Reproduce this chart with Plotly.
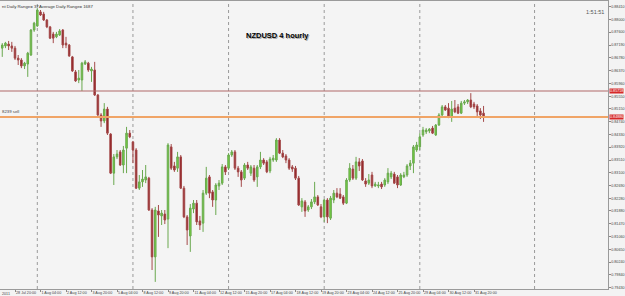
import plotly.graph_objects as go
from datetime import datetime, timedelta

# ---- data (NZDUSD H4, bars from 28 Jul 2011 04:00) ----
open_ = [.8709,.8716,.8722,.8716,.8709,.8677,.8671,.8652,.8658,.8687,
         .8767,.8780,.8825,.8818,.8799,.8777,.8754,.8745,.8751,.8767,
         .8725,.8719,.8681,.8633,.8607,.8607,.8658,.8661,.8636,.8639,
         .8559,.8495,.8476,.8514,.8434,.8309,.8361,.8377,.8335,.8389,
         .8437,.8409,.8383,.8261,.8281,.8287,.8293,.8191,.8041,.8188,
         .8172,.8178,.8162,.8393,.8332,.8325,.8361,.8261,.8169,.8108,
         .8194,.8213,.8156,.8149,.8245,.8297,.8249,.8223,.8268,.8277,
         .8329,.8325,.8367,.8377,.8325,.8313,.8293,.8335,.8309,.8325,
         .8297,.8329,.8351,.8345,.8316,.8351,.8351,.8415,.8373,.8364,
         .8351,.8329,.8325,.8293,.8201,.8217,.8191,.8201,.8217,.8233,
         .8201,.8169,.8223,.8165,.8223,.8245,.8242,.8233,.8213,.8287,
         .8322,.8293,.8345,.8348,.8284,.8277,.8303,.8268,.8268,.8274,
         .8271,.8281,.8297,.8306,.8297,.8271,.8297,.8303,.8332,.8341,
         .8383,.8393,.8431,.8441,.8444,.8453,.8431,.8463,.8495,.8521,
         .8517,.8489,.8517,.8521,.8501,.8533,.8537,.8543,.8530,.8524,
         .8508,.8501]
high = [.8725,.8729,.8732,.8729,.8716,.8687,.8677,.8665,.8697,.8770,
        .8793,.8837,.8831,.8825,.8802,.8780,.8761,.8761,.8770,.8770,
        .8745,.8722,.8684,.8639,.8639,.8665,.8671,.8665,.8649,.8665,
        .8562,.8501,.8533,.8521,.8437,.8370,.8383,.8383,.8396,.8457,
        .8447,.8412,.8389,.8303,.8319,.8335,.8297,.8197,.8201,.8207,
        .8191,.8191,.8405,.8402,.8345,.8377,.8367,.8268,.8175,.8210,
        .8223,.8223,.8172,.8255,.8329,.8303,.8255,.8277,.8287,.8338,
        .8335,.8373,.8383,.8383,.8332,.8319,.8341,.8345,.8335,.8335,
        .8335,.8377,.8357,.8351,.8361,.8367,.8421,.8421,.8383,.8370,
        .8357,.8335,.8332,.8300,.8229,.8223,.8207,.8226,.8281,.8239,
        .8210,.8226,.8229,.8236,.8255,.8261,.8261,.8239,.8293,.8341,
        .8335,.8361,.8357,.8354,.8293,.8306,.8313,.8281,.8281,.8281,
        .8293,.8325,.8316,.8313,.8303,.8309,.8313,.8338,.8351,.8399,
        .8409,.8437,.8457,.8453,.8453,.8460,.8466,.8501,.8527,.8527,
        .8533,.8540,.8543,.8530,.8540,.8543,.8546,.8565,.8537,.8530,
        .8517,.8524]
low = [.8681,.8709,.8703,.8697,.8671,.8655,.8645,.8642,.8617,.8684,
       .8761,.8777,.8812,.8796,.8773,.8738,.8725,.8741,.8748,.8709,
       .8709,.8681,.8633,.8601,.8597,.8572,.8655,.8633,.8601,.8556,
       .8492,.8457,.8469,.8431,.8306,.8271,.8354,.8332,.8309,.8309,
       .8421,.8341,.8258,.8255,.8265,.8277,.8188,.7999,.7961,.8105,
       .8143,.8146,.8069,.8319,.8313,.8313,.8258,.8165,.8079,.8057,
       .8181,.8143,.8127,.8121,.8239,.8229,.8201,.8175,.8255,.8271,
       .8303,.8319,.8361,.8319,.8297,.8265,.8287,.8319,.8300,.8281,
       .8265,.8322,.8335,.8309,.8309,.8345,.8345,.8370,.8357,.8341,
       .8319,.8313,.8287,.8204,.8185,.8169,.8185,.8194,.8210,.8204,
       .8165,.8153,.8149,.8159,.8213,.8229,.8226,.8207,.8210,.8281,
       .8287,.8287,.8316,.8284,.8265,.8271,.8261,.8265,.8261,.8258,
       .8265,.8274,.8290,.8274,.8261,.8268,.8293,.8297,.8319,.8309,
       .8377,.8383,.8425,.8434,.8437,.8434,.8428,.8460,.8492,.8508,
       .8485,.8473,.8501,.8498,.8498,.8527,.8530,.8517,.8514,.8492,
       .8482,.8473]
close = [.8719,.8725,.8716,.8709,.8677,.8671,.8652,.8661,.8693,.8767,
         .8789,.8831,.8815,.8799,.8777,.8741,.8741,.8754,.8764,.8719,
         .8719,.8684,.8636,.8604,.8613,.8661,.8665,.8639,.8642,.8559,
         .8495,.8476,.8514,.8437,.8309,.8361,.8370,.8335,.8383,.8437,
         .8425,.8383,.8261,.8281,.8290,.8297,.8191,.8041,.8191,.8175,
         .8181,.8159,.8399,.8325,.8319,.8361,.8261,.8169,.8127,.8197,
         .8213,.8153,.8143,.8245,.8293,.8245,.8223,.8271,.8277,.8329,
         .8313,.8367,.8377,.8325,.8313,.8287,.8335,.8325,.8329,.8287,
         .8329,.8351,.8341,.8313,.8354,.8357,.8415,.8373,.8361,.8351,
         .8325,.8322,.8293,.8207,.8220,.8188,.8201,.8217,.8233,.8207,
         .8169,.8223,.8169,.8229,.8245,.8233,.8229,.8213,.8287,.8325,
         .8293,.8345,.8332,.8287,.8274,.8287,.8268,.8274,.8271,.8265,
         .8287,.8309,.8309,.8277,.8271,.8303,.8303,.8332,.8341,.8393,
         .8399,.8425,.8447,.8447,.8450,.8437,.8463,.8495,.8521,.8511,
         .8489,.8514,.8505,.8501,.8533,.8537,.8543,.8521,.8521,.8505,
         .8495,.8489]

y_tick_values = [0.88410, 0.88000, 0.87600, 0.87190, 0.86780, 0.86370, 0.85960,
                 0.85550, 0.85150, 0.84740, 0.84330, 0.83920, 0.83510, 0.83100,
                 0.82690, 0.82280, 0.81880, 0.81470, 0.81060, 0.80650, 0.80240,
                 0.79840, 0.79430]
level_line = 0.85718      # brown horizontal line
bid_line = 0.84886        # orange "sell" line
extra_vline_bars = [163]
first_bar = -4            # bar index of 28 Jul 04:00 (28 Jul 20:00 = 0)
label_step = 8

# bar times (weekdays only, 4-hour bars)
times = []
t = datetime(2011, 7, 28, 4)
while len(times) < len(open_):
    if t.weekday() < 5:
        times.append(t)
    t += timedelta(hours=4)
xs = list(range(first_bar, first_bar + len(open_)))

tickvals = [i for i in xs if i >= 0 and i % label_step == 0]
ticktext = [f"{times[i - first_bar].day} {times[i - first_bar].strftime('%b %H:%M')}" for i in tickvals]
separators = [xs[k] for k, tt in enumerate(times) if tt.weekday() == 0 and tt.hour == 0] + extra_vline_bars

FONT = "Liberation Sans, Arial, sans-serif"
TICK_FS = 3.7

fig = go.Figure()
fig.add_trace(go.Candlestick(
    x=xs, open=open_, high=high, low=low, close=close,
    increasing=dict(line=dict(color="#6aa84f", width=1), fillcolor="#72d43c"),
    decreasing=dict(line=dict(color="#a44a4a", width=1), fillcolor="#8e1a1f"),
    whiskerwidth=0, hoverinfo="skip", showlegend=False,
))

shapes = []
for s in separators:
    shapes.append(dict(type="line", xref="x", yref="paper", x0=s, x1=s, y0=0, y1=1,
                       line=dict(color="#9a9a9a", width=1, dash="dot"), layer="below"))
shapes.append(dict(type="line", xref="paper", yref="y", x0=0, x1=1, y0=level_line, y1=level_line,
                   line=dict(color="#b06868", width=1)))
shapes.append(dict(type="line", xref="paper", yref="y", x0=0, x1=1, y0=bid_line, y1=bid_line,
                   line=dict(color="#f0a466", width=2)))

annotations = [
    dict(text="nt Daily Range= 37", xref="paper", yref="paper", x=0, y=1, xanchor="left",
         yanchor="top", showarrow=False, font=dict(size=4.3, color="#333", family=FONT), yshift=-1),
    dict(text="Average Daily Range= 1687", xref="paper", yref="paper", x=37 / 608, y=1,
         xanchor="left", yanchor="top", showarrow=False,
         font=dict(size=4.3, color="#333", family=FONT), yshift=-1),
    dict(text="1:51:51", xref="paper", yref="paper", x=584 / 608, y=1, xanchor="left",
         yanchor="middle", yshift=-11, showarrow=False, font=dict(size=5.5, color="#555", family=FONT)),
    dict(text="<b>NZDUSD 4 hourly</b>", xref="paper", yref="paper", x=277 / 608, y=1,
         xanchor="center", yanchor="middle", yshift=-35, xshift=1.5, showarrow=False,
         font=dict(size=7.5, color="#a8a8a8", family=FONT)),
    dict(text="<b>NZDUSD 4 hourly</b>", xref="paper", yref="paper", x=277 / 608, y=1,
         xanchor="center", yanchor="middle", yshift=-34, showarrow=False,
         font=dict(size=7.5, color="#000", family=FONT)),
    dict(text="8239 sell", xref="paper", yref="y", x=0, y=bid_line, xanchor="left",
         yanchor="bottom", yshift=1, showarrow=False, font=dict(size=4.3, color="#444", family=FONT)),
    dict(text="2011", xref="paper", yref="paper", x=0, y=0, xanchor="left",
         yanchor="top", yshift=-1, showarrow=False,
         font=dict(size=TICK_FS, color="#444", family=FONT)),
    dict(text=f"{level_line:.5f}", xref="paper", yref="y", x=1, y=level_line, xanchor="left",
         yanchor="middle", xshift=1, showarrow=False, bgcolor="#d62828", borderpad=0,
         font=dict(size=TICK_FS, color="#fff", family=FONT)),
    dict(text=f"{bid_line:.5f}", xref="paper", yref="y", x=1, y=bid_line, xanchor="left",
         yanchor="middle", xshift=1, showarrow=False, bgcolor="#d62828", borderpad=0,
         font=dict(size=TICK_FS, color="#fff", family=FONT)),
]

px_per_bar = 3.1875
x_lo = first_bar - (2.25 / px_per_bar)
x_hi = x_lo + 608 / px_per_bar

fig.update_layout(
    width=625, height=296, autosize=False,
    margin=dict(l=0, r=17, t=1, b=7, autoexpand=False),
    paper_bgcolor="#f3f3f3", plot_bgcolor="#f4f4f4",
    shapes=shapes, annotations=annotations,
    xaxis=dict(range=[x_lo, x_hi], tickvals=tickvals, ticktext=ticktext, tickangle=0,
               automargin=False,
               ticks="outside", ticklen=2, tickcolor="#888", showline=True, linecolor="#9a9a9a",
               mirror=True, showgrid=False, zeroline=False, rangeslider=dict(visible=False),
               ticklabelposition="outside right", ticklabelstandoff=0,
               tickfont=dict(size=TICK_FS, color="#444", family=FONT)),
    yaxis=dict(range=[0.79382, 0.88598], side="right", tickvals=y_tick_values, automargin=False,
               ticktext=[f"{v:.5f}" for v in y_tick_values], ticks="outside", ticklen=1.5,
               ticklabelstandoff=0,
               tickcolor="#888", showline=True, linecolor="#9a9a9a", showgrid=False,
               zeroline=False, tickfont=dict(size=TICK_FS, color="#444", family=FONT)),
)

fig.write_html("out.html")
